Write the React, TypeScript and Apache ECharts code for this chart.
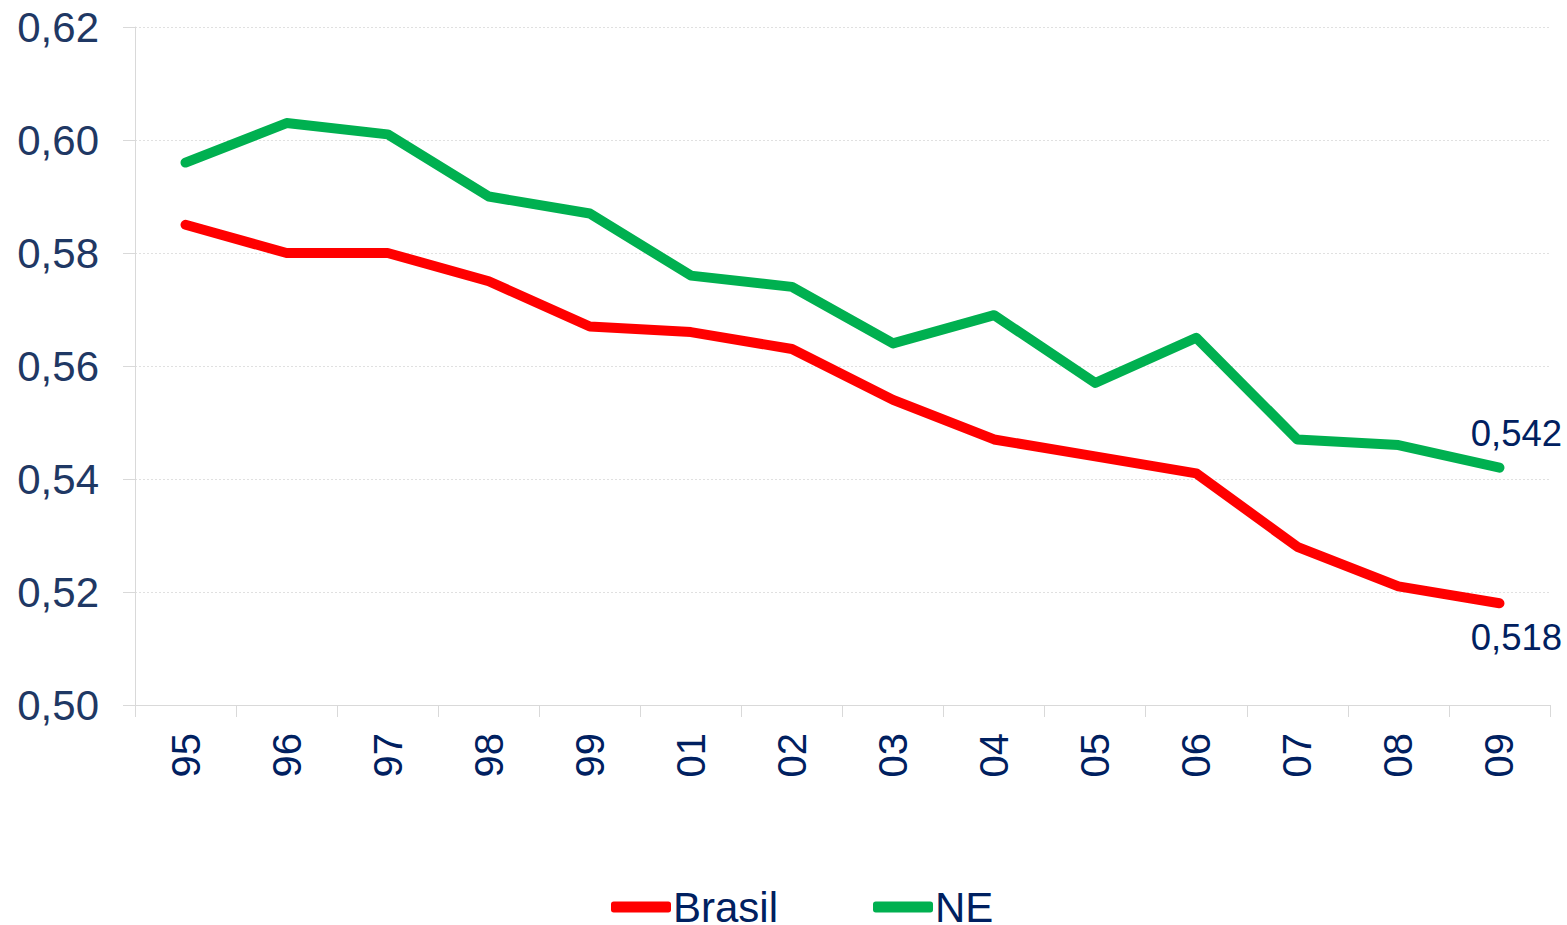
import React, { useEffect, useRef } from "react";
import * as echarts from "echarts";

const categories = ["95", "96", "97", "98", "99", "01", "02", "03", "04", "05", "06", "07", "08", "09"];
const brasil = [0.585, 0.58, 0.58, 0.575, 0.567, 0.566, 0.563, 0.554, 0.547, 0.544, 0.541, 0.528, 0.521, 0.518];
const ne = [0.596, 0.603, 0.601, 0.59, 0.587, 0.576, 0.574, 0.564, 0.569, 0.557, 0.565, 0.547, 0.546, 0.542];
const yMin = 0.5;
const yMax = 0.62;
const yStep = 0.02;

const NAVY = "#002060";
const FONT = "'Liberation Sans', Arial, sans-serif";

const lastLabel = (arr: number[], pos: "top" | "bottom", dy: number) =>
  arr.map((v, i) =>
    i === arr.length - 1
      ? {
          value: v,
          label: {
            show: true,
            position: pos,
            offset: [17, dy],
            formatter: (p: any) => Number(p.value).toFixed(3).replace(".", ","),
            fontSize: 36.5,
            color: NAVY,
            fontFamily: FONT,
          },
        }
      : v
  );

export default function App() {
  const ref = useRef<HTMLDivElement>(null);
  useEffect(() => {
    if (!ref.current) return;
    const chart = echarts.init(ref.current, null, { renderer: "svg" });
    chart.setOption({
      animation: false,
      backgroundColor: "#ffffff",
      grid: { left: 135, right: 17, top: 27, bottom: 220 },
      xAxis: {
        type: "category",
        data: categories,
        boundaryGap: true,
        axisLine: { show: true, lineStyle: { color: "#d9d9d9", width: 1 } },
        axisTick: { show: true, length: 12, lineStyle: { color: "#d9d9d9" } },
        axisLabel: {
          rotate: 90,
          margin: 28,
          fontSize: 40,
          color: NAVY,
          fontFamily: FONT,
        },
        splitLine: { show: false },
      },
      yAxis: {
        type: "value",
        min: yMin,
        max: yMax,
        interval: yStep,
        axisLine: { show: true, lineStyle: { color: "#d9d9d9", width: 1 } },
        axisTick: { show: true, length: 12, lineStyle: { color: "#d9d9d9" } },
        axisLabel: {
          margin: 36,
          fontSize: 42,
          color: "#1f3864",
          fontFamily: FONT,
          formatter: (v: number) => v.toFixed(2).replace(".", ","),
        },
        splitLine: { show: true, lineStyle: { color: "#e0e0e0", type: [2, 2], width: 1 } },
      },
      legend: {
        left: 611,
        top: 886,
        padding: 0,
        itemWidth: 60,
        itemHeight: 11,
        itemGap: 95,
        icon: "roundRect",
        textStyle: {
          fontSize: 42,
          lineHeight: 32,
          color: NAVY,
          fontFamily: FONT,
          padding: [0, 0, 0, -3],
        },
        data: ["Brasil", "NE"],
      },
      series: [
        {
          name: "Brasil",
          type: "line",
          data: lastLabel(brasil, "bottom", 10),
          symbol: "circle",
          symbolSize: 1,
          lineStyle: { color: "#ff0000", width: 10, cap: "round", join: "round" },
          itemStyle: { color: "#ff0000" },
        },
        {
          name: "NE",
          type: "line",
          data: lastLabel(ne, "top", -10),
          symbol: "circle",
          symbolSize: 1,
          lineStyle: { color: "#00b050", width: 10, cap: "round", join: "round" },
          itemStyle: { color: "#00b050" },
        },
      ],
    });
    return () => chart.dispose();
  }, []);
  return (
    <div
      ref={ref}
      style={{ position: "absolute", left: 0, top: 0, width: 1567, height: 925 }}
    />
  );
}
